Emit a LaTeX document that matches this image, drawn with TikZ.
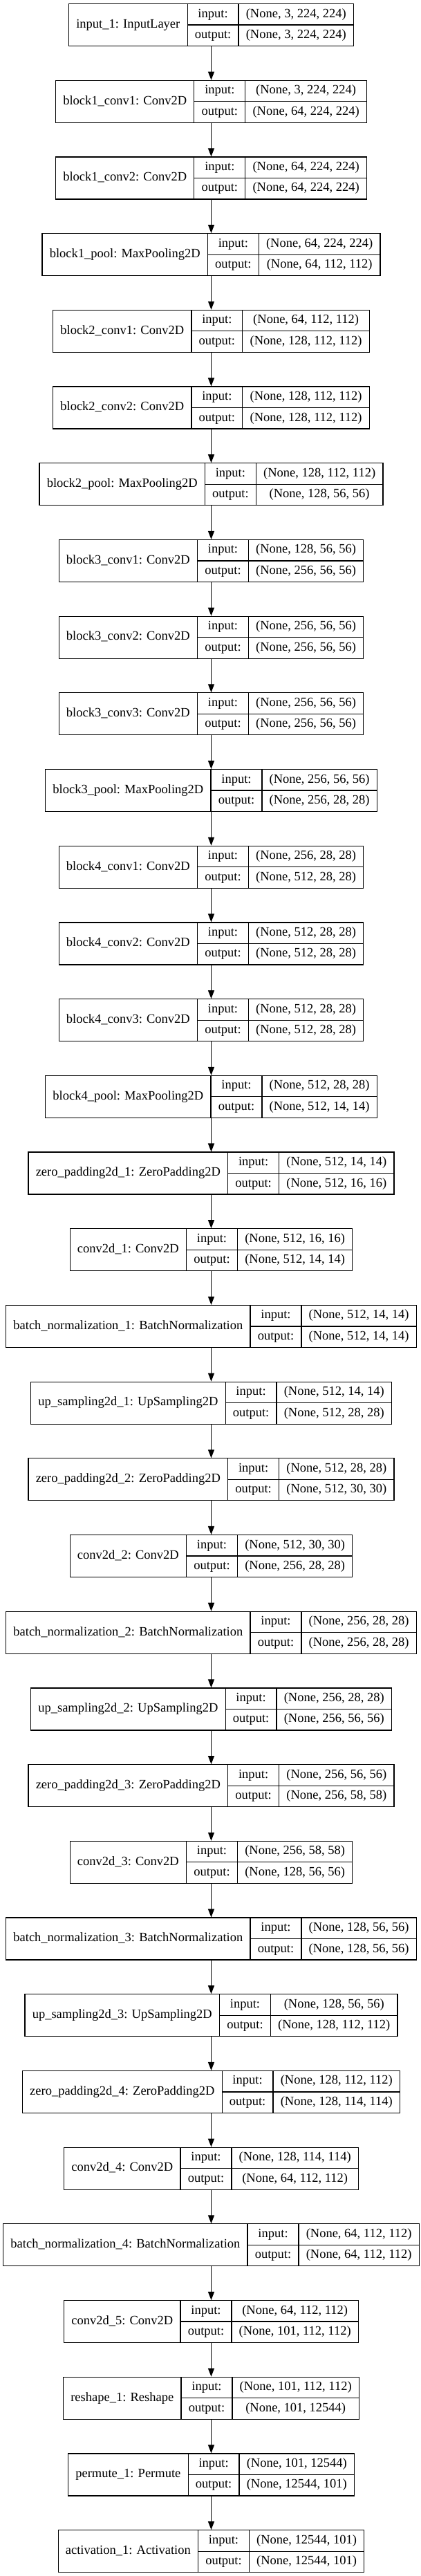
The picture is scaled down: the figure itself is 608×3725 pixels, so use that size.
\documentclass[tikz,border=0pt]{standalone}
\usepackage{fontspec}
\setmainfont{Liberation Serif}
\usetikzlibrary{arrows.meta}
\newlength\lwa \newlength\lwb \newlength\lwc \newlength\lwt
\newcommand\lfont{\fontsize{18.5}{22}\selectfont}
\newcommand\defL[4]{%
  \expandafter\gdef\csname lab#1\endcsname{#2}%
  \expandafter\gdef\csname in#1\endcsname{#3}%
  \expandafter\gdef\csname out#1\endcsname{#4}%
  \settowidth\lwa{\lfont #2}%
  \settowidth\lwc{\lfont #3}\settowidth\lwt{\lfont #4}%
  \ifdim\lwt>\lwc \lwc=\lwt\fi
  \expandafter\xdef\csname wa#1\endcsname{\the\lwa}%
  \expandafter\xdef\csname wc#1\endcsname{\the\lwc}%
}
\tikzset{
  box/.style={draw=black, line width=1.2pt, inner sep=0pt, minimum height=61pt, rectangle},
  ln/.style={draw=black, line width=1.2pt},
  txt/.style={font=\lfont, inner sep=0pt, text height=12.5pt, text depth=4pt, anchor=center},
  arr/.style={draw=black, line width=1.2pt, -{Triangle[length=12pt,width=9pt]}}
}
\newcommand\layer[1]{%
  \edef\wA{\csname wa#1\endcsname}%
  \edef\wC{\csname wc#1\endcsname}%
  \pgfmathsetmacro\Wa{\wA+21.5}%
  \pgfmathsetmacro\Wc{\wC+21.5}%
  \pgfmathsetmacro\Wt{\Wa+\wB+\Wc}%
  \pgfmathsetmacro\xL{305.5-\Wt/2}%
  \pgfmathsetmacro\xA{\xL+\Wa}%
  \pgfmathsetmacro\xB{\xA+\wB}%
  \pgfmathsetmacro\xR{\xL+\Wt}%
  \pgfmathsetmacro\cA{(\xL+\xA)/2}%
  \pgfmathsetmacro\cB{(\xA+\xB)/2}%
  \pgfmathsetmacro\cC{(\xB+\xR)/2}%
  \pgfmathsetmacro\yT{3725-5.6-110.7*#1}%
  \pgfmathsetmacro\yB{\yT-61}%
  \pgfmathsetmacro\yM{\yT-30.5}%
  \pgfmathsetmacro\yU{\yT-15.25}%
  \pgfmathsetmacro\yD{\yT-45.75}%
  \node[box, minimum width=\Wt pt] (L#1) at (305.5pt,\yM pt) {};
  \draw[ln] (\xA pt,\yT pt) -- (\xA pt,\yB pt);
  \draw[ln] (\xB pt,\yT pt) -- (\xB pt,\yB pt);
  \draw[ln] (\xA pt,\yM pt) -- (\xR pt,\yM pt);
  \node[txt] (L#1l) at (\cA pt,\yM pt) {\csname lab#1\endcsname};
  \node[txt] (L#1i) at (\cB pt,\yU pt) {input:};
  \node[txt] (L#1o) at (\cB pt,\yD pt) {output:};
  \node[txt] (L#1s) at (\cC pt,\yU pt) {\csname in#1\endcsname};
  \node[txt] (L#1t) at (\cC pt,\yD pt) {\csname out#1\endcsname};
}
\begin{document}
\settowidth\lwb{\lfont output:}\addtolength\lwb{21.5pt}%
\xdef\wB{\the\lwb}%
\defL{0}{input\_1: InputLayer}{(None, 3, 224, 224)}{(None, 3, 224, 224)}%
\defL{1}{block1\_conv1: Conv2D}{(None, 3, 224, 224)}{(None, 64, 224, 224)}%
\defL{2}{block1\_conv2: Conv2D}{(None, 64, 224, 224)}{(None, 64, 224, 224)}%
\defL{3}{block1\_pool: MaxPooling2D}{(None, 64, 224, 224)}{(None, 64, 112, 112)}%
\defL{4}{block2\_conv1: Conv2D}{(None, 64, 112, 112)}{(None, 128, 112, 112)}%
\defL{5}{block2\_conv2: Conv2D}{(None, 128, 112, 112)}{(None, 128, 112, 112)}%
\defL{6}{block2\_pool: MaxPooling2D}{(None, 128, 112, 112)}{(None, 128, 56, 56)}%
\defL{7}{block3\_conv1: Conv2D}{(None, 128, 56, 56)}{(None, 256, 56, 56)}%
\defL{8}{block3\_conv2: Conv2D}{(None, 256, 56, 56)}{(None, 256, 56, 56)}%
\defL{9}{block3\_conv3: Conv2D}{(None, 256, 56, 56)}{(None, 256, 56, 56)}%
\defL{10}{block3\_pool: MaxPooling2D}{(None, 256, 56, 56)}{(None, 256, 28, 28)}%
\defL{11}{block4\_conv1: Conv2D}{(None, 256, 28, 28)}{(None, 512, 28, 28)}%
\defL{12}{block4\_conv2: Conv2D}{(None, 512, 28, 28)}{(None, 512, 28, 28)}%
\defL{13}{block4\_conv3: Conv2D}{(None, 512, 28, 28)}{(None, 512, 28, 28)}%
\defL{14}{block4\_pool: MaxPooling2D}{(None, 512, 28, 28)}{(None, 512, 14, 14)}%
\defL{15}{zero\_padding2d\_1: ZeroPadding2D}{(None, 512, 14, 14)}{(None, 512, 16, 16)}%
\defL{16}{conv2d\_1: Conv2D}{(None, 512, 16, 16)}{(None, 512, 14, 14)}%
\defL{17}{batch\_normalization\_1: BatchNormalization}{(None, 512, 14, 14)}{(None, 512, 14, 14)}%
\defL{18}{up\_sampling2d\_1: UpSampling2D}{(None, 512, 14, 14)}{(None, 512, 28, 28)}%
\defL{19}{zero\_padding2d\_2: ZeroPadding2D}{(None, 512, 28, 28)}{(None, 512, 30, 30)}%
\defL{20}{conv2d\_2: Conv2D}{(None, 512, 30, 30)}{(None, 256, 28, 28)}%
\defL{21}{batch\_normalization\_2: BatchNormalization}{(None, 256, 28, 28)}{(None, 256, 28, 28)}%
\defL{22}{up\_sampling2d\_2: UpSampling2D}{(None, 256, 28, 28)}{(None, 256, 56, 56)}%
\defL{23}{zero\_padding2d\_3: ZeroPadding2D}{(None, 256, 56, 56)}{(None, 256, 58, 58)}%
\defL{24}{conv2d\_3: Conv2D}{(None, 256, 58, 58)}{(None, 128, 56, 56)}%
\defL{25}{batch\_normalization\_3: BatchNormalization}{(None, 128, 56, 56)}{(None, 128, 56, 56)}%
\defL{26}{up\_sampling2d\_3: UpSampling2D}{(None, 128, 56, 56)}{(None, 128, 112, 112)}%
\defL{27}{zero\_padding2d\_4: ZeroPadding2D}{(None, 128, 112, 112)}{(None, 128, 114, 114)}%
\defL{28}{conv2d\_4: Conv2D}{(None, 128, 114, 114)}{(None, 64, 112, 112)}%
\defL{29}{batch\_normalization\_4: BatchNormalization}{(None, 64, 112, 112)}{(None, 64, 112, 112)}%
\defL{30}{conv2d\_5: Conv2D}{(None, 64, 112, 112)}{(None, 101, 112, 112)}%
\defL{31}{reshape\_1: Reshape}{(None, 101, 112, 112)}{(None, 101, 12544)}%
\defL{32}{permute\_1: Permute}{(None, 101, 12544)}{(None, 12544, 101)}%
\defL{33}{activation\_1: Activation}{(None, 12544, 101)}{(None, 12544, 101)}%
\begin{tikzpicture}
\useasboundingbox (0pt,0pt) rectangle (608pt,3725pt);
\fill[white] (0pt,0pt) rectangle (608pt,3725pt);
\layer{0}\layer{1}\layer{2}\layer{3}\layer{4}\layer{5}\layer{6}\layer{7}
\layer{8}\layer{9}\layer{10}\layer{11}\layer{12}\layer{13}\layer{14}\layer{15}
\layer{16}\layer{17}\layer{18}\layer{19}\layer{20}\layer{21}\layer{22}\layer{23}
\layer{24}\layer{25}\layer{26}\layer{27}\layer{28}\layer{29}\layer{30}\layer{31}
\layer{32}\layer{33}
\foreach \i [evaluate=\i as \j using int(\i+1)] in {0,...,32}
  \draw[arr] (L\i.south) -- (L\j.north);
\end{tikzpicture}
\end{document}
